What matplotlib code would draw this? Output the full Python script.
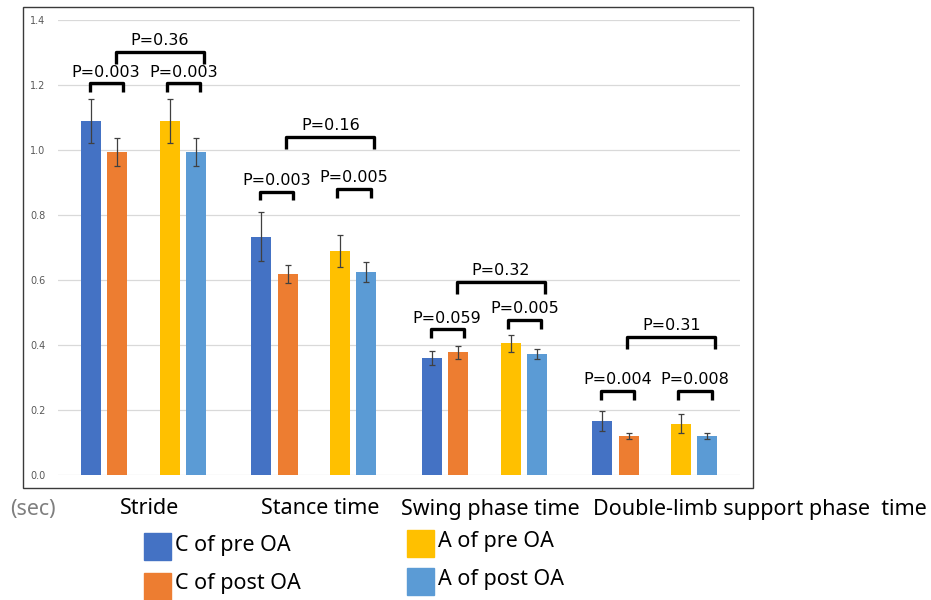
import numpy as np
import matplotlib.pyplot as plt
import matplotlib.transforms as mtransforms
from matplotlib.patches import Rectangle

categories = ['Stride', 'Stance time', 'Swing phase time',
              'Double-limb support phase  time']
series_names = ['C of pre OA', 'C of post OA', 'A of pre OA', 'A of post OA']
series_colors = ['#4472C4', '#ED7D31', '#FFC000', '#5B9BD5']

c_pre = [1.089, 0.733, 0.360, 0.167]
c_pre_err = [0.067, 0.076, 0.022, 0.031]
c_post = [0.994, 0.619, 0.377, 0.120]
c_post_err = [0.042, 0.028, 0.020, 0.010]
a_pre = [1.089, 0.690, 0.405, 0.158]
a_pre_err = [0.067, 0.050, 0.026, 0.030]
a_post = [0.994, 0.625, 0.372, 0.120]
a_post_err = [0.042, 0.031, 0.015, 0.010]

# p-values: C pre vs post, A pre vs post, C vs A
p_c = ['0.003', '0.003', '0.059', '0.004']
p_a = ['0.003', '0.005', '0.005', '0.008']
p_ca = ['0.36', '0.16', '0.32', '0.31']

yticks = [0.0, 0.2, 0.4, 0.6, 0.8, 1.0, 1.2, 1.4]

# bracket levels for the significance annotations
br_c = [1.205, 0.872, 0.448, 0.258]
br_a = [1.205, 0.879, 0.477, 0.258]
br_ca = [1.302, 1.039, 0.595, 0.426]

W, H = 931, 600


def fx(px):
    return px / W


def fy(py):
    return 1 - py / H


def bracket(ax, x1, x2, y, leg, text):
    ax.plot([x1, x1, x2, x2], [y - leg, y, y, y - leg], color='black',
            lw=2.4, solid_joinstyle='round', solid_capstyle='butt', zorder=5)
    ax.text((x1 + x2) / 2, y + 0.021, 'P=' + text, ha='center',
            va='baseline', fontsize=11.5, family='DejaVu Sans', zorder=6)


fig = plt.figure(figsize=(W / 100, H / 100), dpi=100)
ax = fig.add_axes((fx(58), fy(475), fx(682), 455 / H))

x = np.arange(len(categories))
offsets = [-0.307, -0.152, 0.155, 0.307]
width = 0.117
values = [c_pre, c_post, a_pre, a_post]
errors = [c_pre_err, c_post_err, a_pre_err, a_post_err]

for off, vals, err, col in zip(offsets, values, errors, series_colors):
    ax.bar(x + off, vals, width, color=col, zorder=2)
    ax.errorbar(x + off, vals, yerr=err, fmt='none', ecolor='#404040',
                elinewidth=0.9, capsize=2, capthick=0.9, zorder=3)

for i in range(len(categories)):
    bracket(ax, i - 0.315, i - 0.12, br_c[i], 0.027, p_c[i])
    bracket(ax, i + 0.138, i + 0.335, br_a[i], 0.027, p_a[i])
    bracket(ax, i - 0.16, i + 0.356, br_ca[i], 0.037, p_ca[i])

ax.set_xlim(-0.5, 3.5)
ax.set_ylim(0, 1.4)
ax.set_yticks(yticks)
ax.set_yticklabels([f'{v:.1f}' for v in yticks], fontsize=7, color='#595959')
ax.set_xticks([])
ax.tick_params(axis='y', length=0, pad=9)
ax.yaxis.grid(True, color='#d9d9d9', lw=0.9)
ax.set_axisbelow(True)
for s in ax.spines.values():
    s.set_visible(False)

# chart border
fig.add_artist(Rectangle((fx(23), fy(488)), fx(730), 481 / H,
                         transform=fig.transFigure, fill=False,
                         ec='#3a3a3a', lw=1.0))

# category names under the plot
trans = mtransforms.blended_transform_factory(ax.transData, fig.transFigure)
for i, name in enumerate(categories):
    if i < 3:
        ax.text(i + 0.035, fy(509), name, transform=trans, ha='center',
                va='center', fontsize=15.5, family='Noto Sans')
    else:
        ax.text(i - 0.36, fy(509), name, transform=trans, ha='left',
                va='center', fontsize=15.5, family='Noto Sans')
fig.text(fx(10), fy(509), '(sec)', ha='left', va='center', fontsize=15.5,
         family='Noto Sans', color='#7f7f7f')

# legend keys
keys = [(144, 533, 546), (144, 573, 584), (407, 530, 542), (407, 568, 580)]
for (kx, ky, ty), name, col in zip(keys, series_names, series_colors):
    fig.add_artist(Rectangle((fx(kx), fy(ky + 27)), fx(27), 27 / H,
                             transform=fig.transFigure, color=col))
    fig.text(fx(kx + 31), fy(ty), name, ha='left', va='center',
             fontsize=15.5, family='Noto Sans')

fig.savefig('out.png', dpi=100)
